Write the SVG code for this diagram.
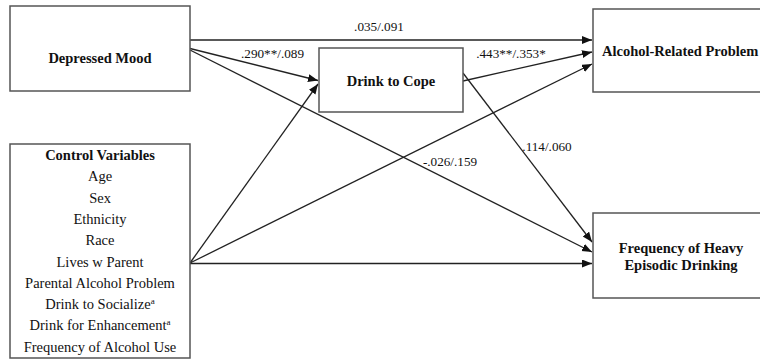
<svg xmlns="http://www.w3.org/2000/svg" width="760" height="360" viewBox="0 0 760 360">
<style>
.box{fill:#fff;stroke:#555;stroke-width:1.5}
.b{font-family:"Liberation Serif","Times New Roman",serif;font-weight:bold;font-size:14.5px;fill:#111}
.t{font-family:"Liberation Serif","Times New Roman",serif;font-size:14.5px;fill:#111}
.lbl{font-family:"Liberation Serif","Times New Roman",serif;font-size:13.2px;fill:#111}
.c{stroke:#222;stroke-width:1.3;fill:none;marker-end:url(#ah)}
</style>
<defs>
<marker id="ah" markerUnits="userSpaceOnUse" markerWidth="11" markerHeight="9" refX="10" refY="4" orient="auto">
<path d="M0,0 L10,4 L0,8 z" fill="#111"/>
</marker>
</defs>
<rect width="760" height="360" fill="#fff"/>
<g id="connectors">
<line class="c" x1="190" y1="40" x2="592" y2="40"/>
<line class="c" x1="190" y1="48.5" x2="318" y2="80.5"/>
<line class="c" x1="190" y1="50" x2="592" y2="252"/>
<line class="c" x1="463" y1="73" x2="592" y2="242"/>
<line class="c" x1="463" y1="81" x2="592" y2="52"/>
<line class="c" x1="190" y1="263" x2="318" y2="84"/>
<line class="c" x1="190" y1="263" x2="592" y2="64"/>
<line class="c" x1="190" y1="263.5" x2="592" y2="263.5"/>
<text class="lbl" x="379" y="31" text-anchor="middle">.035/.091</text>
<text class="lbl" x="272.5" y="58" text-anchor="middle">.290**/.089</text>
<text class="lbl" x="511" y="58" text-anchor="middle">.443**/.353*</text>
<text class="lbl" x="547" y="151" text-anchor="middle">.114/.060</text>
<text class="lbl" x="450" y="166" text-anchor="middle">-.026/.159</text>
</g>
<g id="depressed-mood">
<rect class="box" x="10" y="6" width="180" height="85"/>
<text class="b" x="100" y="63" text-anchor="middle">Depressed Mood</text>
</g>
<g id="drink-to-cope">
<rect class="box" x="319" y="48" width="144" height="64"/>
<text class="b" x="391" y="86" text-anchor="middle">Drink to Cope</text>
</g>
<g id="alcohol-problem">
<rect class="box" x="593" y="9" width="180" height="83"/>
<text class="b" x="602" y="56">Alcohol-Related Problem</text>
</g>
<g id="heavy-drinking">
<rect class="box" x="593" y="213" width="180" height="85"/>
<text class="b" x="681" y="253" text-anchor="middle">Frequency of Heavy</text>
<text class="b" x="681" y="270" text-anchor="middle">Episodic Drinking</text>
</g>
<g id="control-variables">
<rect class="box" x="10" y="144" width="180" height="214"/>
<text class="b" x="100" y="160" text-anchor="middle">Control Variables</text>
<text class="t" x="100" y="181.3" text-anchor="middle">Age</text>
<text class="t" x="100" y="202.6" text-anchor="middle">Sex</text>
<text class="t" x="100" y="223.9" text-anchor="middle">Ethnicity</text>
<text class="t" x="100" y="245.2" text-anchor="middle">Race</text>
<text class="t" x="100" y="266.5" text-anchor="middle">Lives w Parent</text>
<text class="t" x="100" y="287.8" text-anchor="middle">Parental Alcohol Problem</text>
<text class="t" x="100" y="309.1" text-anchor="middle">Drink to Socialize<tspan font-size="9" dy="-5">a</tspan></text>
<text class="t" x="100" y="330.4" text-anchor="middle">Drink for Enhancement<tspan font-size="9" dy="-5">a</tspan></text>
<text class="t" x="100" y="351.7" text-anchor="middle">Frequency of Alcohol Use</text>
</g>
</svg>
